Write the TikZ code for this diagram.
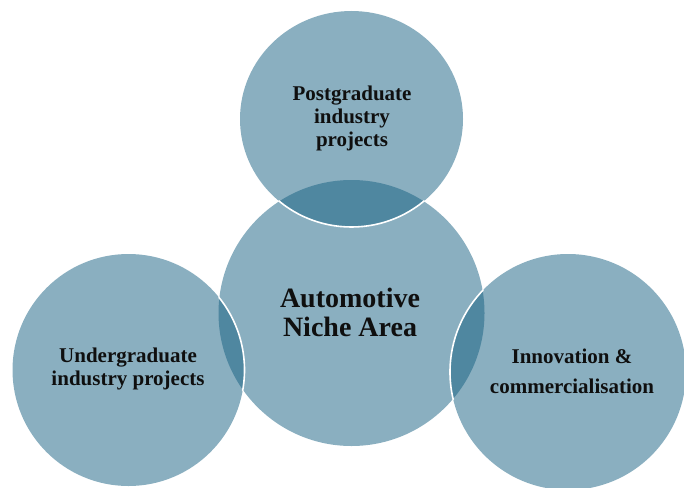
\documentclass[tikz,border=0pt]{standalone}
\usepackage{fontspec}
\setmainfont{Liberation Serif}
\definecolor{lightfill}{RGB}{138,175,192}
\definecolor{lensfill}{RGB}{79,135,160}
\definecolor{txt}{RGB}{15,15,15}
\begin{document}
\begin{tikzpicture}[x=1pt,y=-1pt,
  ring/.style={draw=white,line width=1.6pt},
  lbl/.style={text=txt,align=center,font=\bfseries\fontsize{21}{23}\selectfont},
  biglbl/.style={text=txt,align=center,font=\bfseries\fontsize{28}{29}\selectfont}]
\useasboundingbox (0,0) rectangle (684,487);
\coordinate (cT) at (351.5,119);
\coordinate (cC) at (351.5,313);
\coordinate (cL) at (128.5,370);
\coordinate (cR) at (568,372);
% fills
\fill[lightfill] (cC) circle[radius=133];
\fill[lightfill] (cT) circle[x radius=111.5,y radius=108];
\fill[lightfill] (cL) circle[radius=116];
\fill[lightfill] (cR) circle[radius=118];
% lenses
\begin{scope}
  \clip (cC) circle[radius=133];
  \fill[lensfill] (cT) circle[x radius=111.5,y radius=108];
  \fill[lensfill] (cL) circle[radius=116];
  \fill[lensfill] (cR) circle[radius=118];
\end{scope}
% white outlines over the central circle
\begin{scope}
  \clip (cC) circle[radius=134];
  \draw[ring] (cT) circle[x radius=111.5,y radius=108];
  \draw[ring] (cL) circle[radius=116];
  \draw[ring] (cR) circle[radius=118];
\end{scope}
% labels
\node[lbl] (tT) at (352,118) {Postgraduate\\industry\\projects};
\node[biglbl] (tC) at (350,312) {Automotive\\Niche Area};
\node[lbl] (tL) at (128,369) {Undergraduate\\industry projects};
\node[lbl,font=\bfseries\fontsize{21}{30}\selectfont] (tR) at (572,371) {Innovation \&\\commercialisation};
\end{tikzpicture}
\end{document}
